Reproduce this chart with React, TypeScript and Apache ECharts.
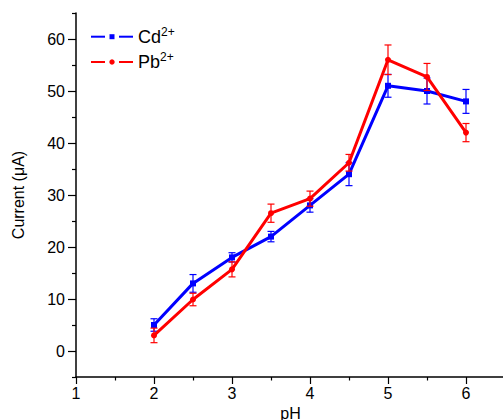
import React, { useEffect, useRef } from "react";
import * as echarts from "echarts";

const pH = [2, 2.5, 3, 3.5, 4, 4.5, 5, 5.5, 6];
const cdValues = [5.0, 13.0, 18.0, 22.0, 28.0, 34.0, 51.0, 50.0, 48.0];
const cdErrors = [1.2, 1.7, 0.9, 1.0, 1.3, 2.2, 2.2, 2.5, 2.3];
const pbValues = [3.0, 9.9, 15.7, 26.5, 29.3, 36.2, 56.0, 52.7, 42.0];
const pbErrors = [1.4, 1.2, 1.45, 1.75, 1.45, 1.6, 2.85, 2.6, 1.75];
const xMajorTicks = [1, 2, 3, 4, 5, 6];
const yMajorTicks = [0, 10, 20, 30, 40, 50, 60];
const yMinorTicks = [-5, 5, 15, 25, 35, 45, 55, 65];
const legendNames = ["Cd", "Pb"];

const FONT = "'Liberation Sans', Arial, sans-serif";
const BLUE = "#0000ff";
const RED = "#ff0000";

function errorSeries(values: number[], errors: number[], color: string) {
  return {
    type: "custom",
    silent: true,
    z: 3,
    data: pH.map((x, i) => [x, values[i] - errors[i], values[i] + errors[i]]),
    renderItem: (params: any, api: any) => {
      const x = api.value(0);
      const pLo = api.coord([x, api.value(1)]);
      const pHi = api.coord([x, api.value(2)]);
      const w = 3.5;
      const style = { stroke: color, lineWidth: 1.2 };
      return {
        type: "group",
        children: [
          { type: "line", shape: { x1: pLo[0], y1: pLo[1], x2: pHi[0], y2: pHi[1] }, style },
          { type: "line", shape: { x1: pHi[0] - w, y1: pHi[1], x2: pHi[0] + w, y2: pHi[1] }, style },
          { type: "line", shape: { x1: pLo[0] - w, y1: pLo[1], x2: pLo[0] + w, y2: pLo[1] }, style },
        ],
      };
    },
  };
}

function legendItem(name: string, color: string, y: number, marker: "rect" | "circle") {
  const x0 = 91;
  const markerEl =
    marker === "rect"
      ? { type: "rect", shape: { x: x0 + 18.5, y: y - 2.5, width: 5, height: 5 }, style: { fill: color } }
      : { type: "circle", shape: { cx: x0 + 21, cy: y, r: 2.7 }, style: { fill: color } };
  return {
    type: "group",
    children: [
      { type: "rect", shape: { x: x0, y: y - 1, width: 14, height: 2 }, style: { fill: color } },
      markerEl,
      { type: "rect", shape: { x: x0 + 28, y: y - 1, width: 14, height: 2 }, style: { fill: color } },
      {
        type: "text",
        x: x0 + 47,
        y: y,
        style: {
          text: `{n|${name}}{s|2+}`,
          verticalAlign: "middle",
          align: "left",
          rich: {
            n: { fontSize: 18, lineHeight: 22, fill: "#000", fontFamily: FONT },
            s: { fontSize: 12, lineHeight: 12, verticalAlign: "top", fill: "#000", fontFamily: FONT },
          },
        },
      },
    ],
  };
}

export default function App() {
  const ref = useRef<HTMLDivElement>(null);
  useEffect(() => {
    if (!ref.current) return;
    const chart = echarts.init(ref.current, null, { renderer: "svg" });
    const axisColor = "#000";
    chart.setOption({
      animation: false,
      backgroundColor: "#fff",
      textStyle: { fontFamily: FONT },
      grid: { left: 76, top: 13, bottom: 43, right: -2, containLabel: false, outerBoundsMode: "none" },
      graphic: [
        legendItem(legendNames[0], BLUE, 36.7, "rect"),
        legendItem(legendNames[1], RED, 62, "circle"),
      ],
      xAxis: {
        type: "value",
        min: 1,
        max: 6.5,
        interval: 1,
        name: "pH",
        nameLocation: "middle",
        nameGap: 24,
        nameTextStyle: { fontSize: 16, color: "#000", fontFamily: FONT },
        axisLine: { show: true, onZero: false, lineStyle: { color: axisColor, width: 1.5 } },
        axisTick: { show: true, length: 7, lineStyle: { color: axisColor, width: 1.2 } },
        minorTick: { show: true, splitNumber: 2, length: 3.5, lineStyle: { color: axisColor, width: 1.2 } },
        axisLabel: { fontSize: 16, color: "#000", margin: 8, customValues: xMajorTicks, fontFamily: FONT },
        splitLine: { show: false },
      },
      yAxis: [
        {
          type: "value",
          min: -5,
          max: 65,
          interval: 5,
          name: "Current (\u03bcA)",
          nameLocation: "middle",
          nameGap: 50,
          nameTextStyle: { fontSize: 16, color: "#000", fontFamily: FONT },
          axisLine: { show: true, onZero: false, lineStyle: { color: axisColor, width: 1.5 } },
          axisTick: { show: true, length: 8, customValues: yMajorTicks, lineStyle: { color: axisColor, width: 1.2 } },
          axisLabel: { fontSize: 16, color: "#000", margin: 11, customValues: yMajorTicks, fontFamily: FONT },
          splitLine: { show: false },
        },
        {
          type: "value",
          min: -5,
          max: 65,
          interval: 5,
          position: "left",
          axisLine: { show: false },
          axisTick: { show: true, length: 4, customValues: yMinorTicks, lineStyle: { color: axisColor, width: 1.2 } },
          axisLabel: { show: false },
          splitLine: { show: false },
        },
      ],
      series: [
        {
          name: "Cd",
          type: "line",
          data: pH.map((x, i) => [x, cdValues[i]]),
          symbol: "rect",
          symbolSize: 6,
          color: BLUE,
          lineStyle: { width: 3, color: BLUE },
          itemStyle: { color: BLUE },
          z: 2,
        },
        errorSeries(cdValues, cdErrors, BLUE),
        {
          name: "Pb",
          type: "line",
          data: pH.map((x, i) => [x, pbValues[i]]),
          symbol: "circle",
          symbolSize: 6,
          color: RED,
          lineStyle: { width: 3, color: RED },
          itemStyle: { color: RED },
          z: 4,
        },
        errorSeries(pbValues, pbErrors, RED),
      ],
    });
    return () => chart.dispose();
  }, []);
  return <div ref={ref} style={{ width: 503, height: 420, position: "absolute", left: 0, top: 0 }} />;
}
